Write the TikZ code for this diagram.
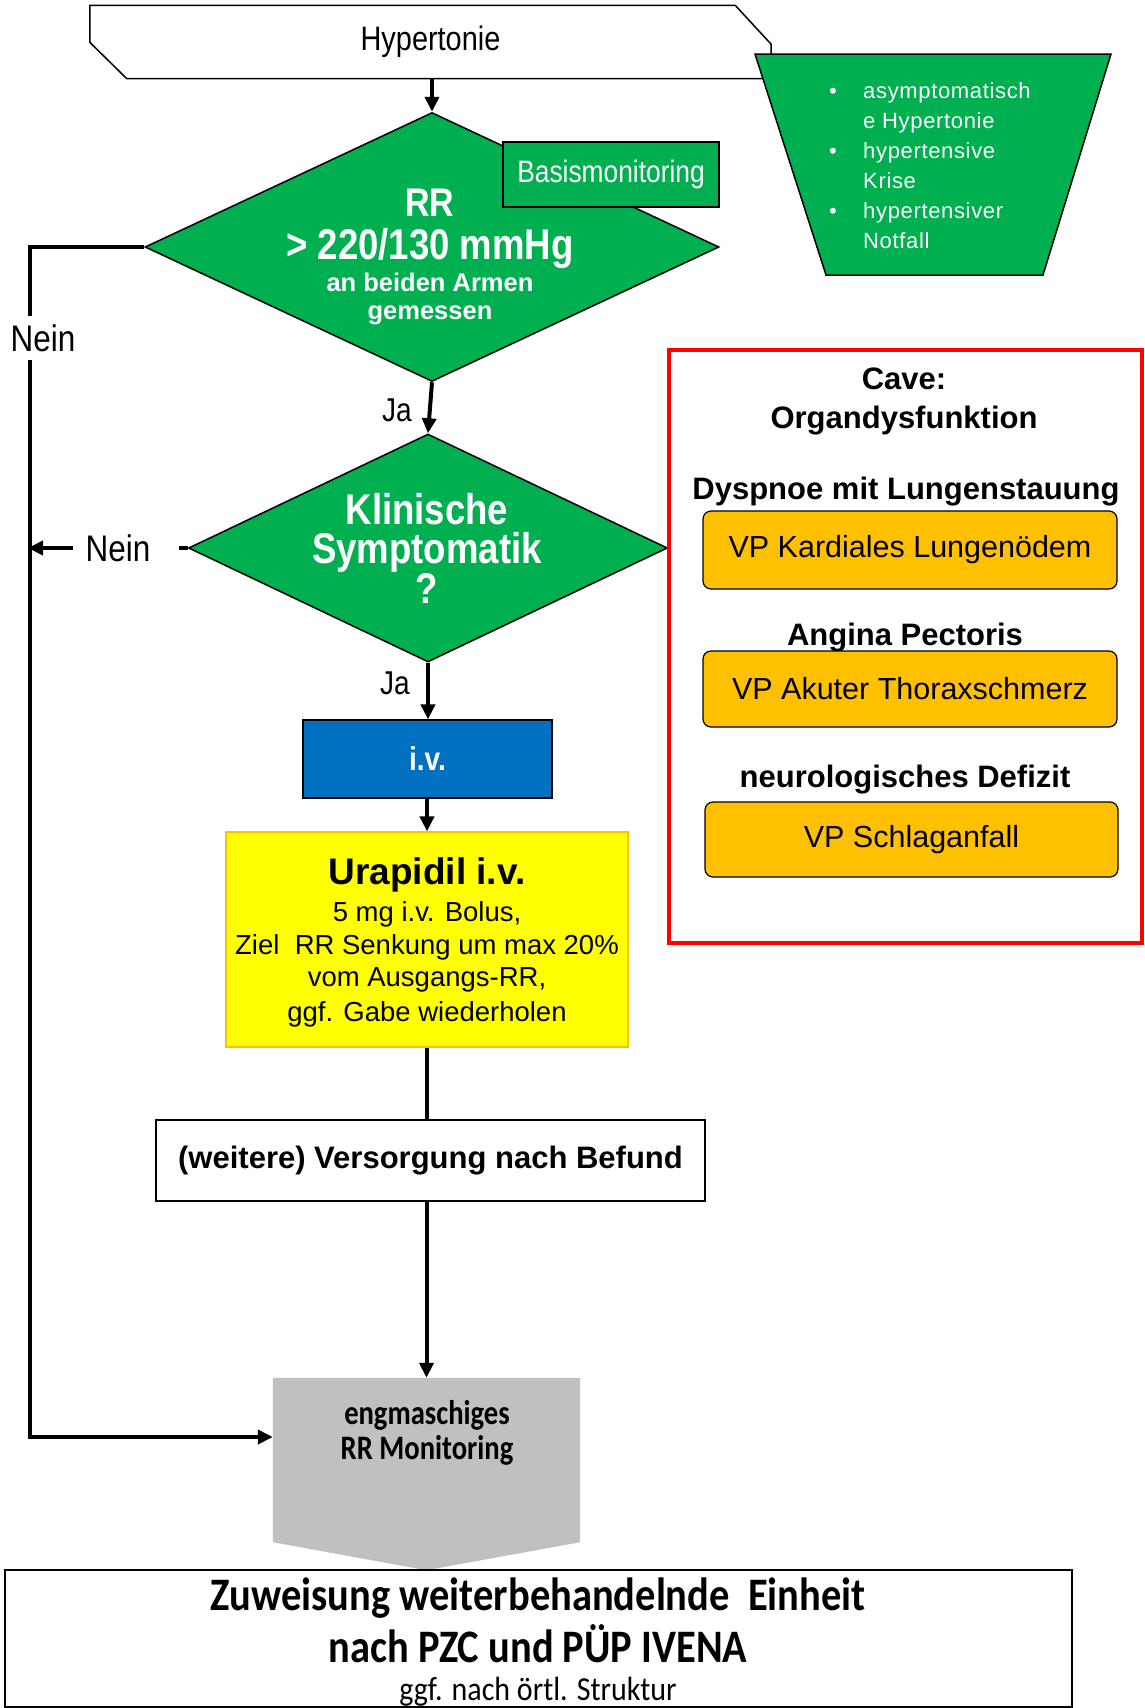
\documentclass[tikz,border=0pt]{standalone}
\usepackage{fontspec}
\setmainfont{Liberation Sans}
\newfontfamily\nar[FakeStretch=0.85]{Liberation Sans}
\newfontfamily\calb{Carlito}
\newfontfamily\spc[LetterSpace=3]{Liberation Sans}
\usetikzlibrary{shapes.geometric,arrows.meta,calc}
\newcommand{\setfs}[1]{\fontsize{#1pt}{#1pt}\selectfont}
\definecolor{mgreen}{HTML}{00B050}
\definecolor{mblue}{HTML}{0070C0}
\definecolor{myellow}{HTML}{FFFF00}
\definecolor{morange}{HTML}{FFC000}
\definecolor{mgray}{HTML}{C0C0C0}
\definecolor{mred}{HTML}{FF0000}
\tikzset{
  bord/.style={draw=black, line width=1.5pt},
  dia/.style={diamond, bord, fill=mgreen, inner sep=0pt},
  conn/.style={line width=4pt, line join=miter},
  arr/.style={conn, -{Triangle[length=15pt,width=14pt]}},
  wtxt/.style={text=white, inner sep=0pt},
  btxt/.style={text=black, inner sep=0pt},
  vpbox/.style={bord, line width=1.2pt, fill=morange, rounded corners=8pt, inner sep=0pt, font=\setfs{30.5}},
  head/.style={btxt, font=\bfseries\setfs{31}},
  lbl/.style={btxt, font=\nar\setfs{33}},
  nlbl/.style={btxt, font=\nar\setfs{37}},
  bigq/.style={wtxt, font=\nar\bfseries\setfs{43}, text height=30pt, text depth=8pt},
}
\begin{document}
\begin{tikzpicture}[x=1pt,y=-1pt]
\useasboundingbox (0,0) rectangle (1144,1708);

% Hypertonie
\node[minimum width=681pt, minimum height=73pt, inner sep=0pt, font=\nar\setfs{34}] (hyp) at (430.5,42) {Hypertonie};
\draw[bord] (hyp.north west) -- ($(hyp.north east)+(-36,0)$) -- ($(hyp.north east)+(0,39)$) -- (hyp.south east) -- ($(hyp.south west)+(37,0)$) -- ($(hyp.north west)+(0,37)$) -- cycle;

% trapezoid
\draw[bord, fill=mgreen] (755,54) -- (1111,54) -- (1043,275) -- (826,275) -- cycle;
\node[wtxt, anchor=west, font=\spc\fontsize{22pt}{30pt}\selectfont] (trapt) at (829,167) {%
  \begin{tabular}{@{}p{34pt}@{}l@{}}
  \textbullet & asymptomatisch\\
   & e Hypertonie\\
  \textbullet & hypertensive\\
   & Krise\\
  \textbullet & hypertensiver\\
   & Notfall
  \end{tabular}};

% diamond 1
\node[dia, minimum width=574pt, minimum height=269pt] (d1) at (432,247) {};
\node[wtxt, font=\nar\bfseries\setfs{40}] (d1a) at (430,203) {RR};
\node[wtxt, font=\nar\bfseries\setfs{43}] (d1b) at (430,248) {> 220/130 mmHg};
\node[wtxt, font=\bfseries\setfs{25.5}] (d1c) at (430,282) {an beiden Armen};
\node[wtxt, font=\bfseries\setfs{25.5}] (d1d) at (430,315) {gemessen};

% Basismonitoring
\node[bord, fill=mgreen, minimum width=216pt, minimum height=65pt, inner sep=0pt, text=white, font=\nar\setfs{31}] (basis) at (611,174.5) {Basismonitoring};

% diamond 2
\node[dia, minimum width=479pt, minimum height=228pt] (d2) at (428,548) {};
\node[bigq] (d2a) at (427,513) {Klinische};
\node[bigq] (d2b) at (427,552) {Symptomatik};
\node[bigq] (d2c) at (427,592) {?};

% red box
\node[draw=mred, line width=4pt, minimum width=473pt, minimum height=593pt, inner sep=0pt] (cave) at (905.5,646.5) {};
\node[head] (cv1) at (904,379) {Cave:};
\node[head] (cv2) at (904,421) {Organdysfunktion};
\node[head] (h1) at (906,492) {Dyspnoe mit Lungenstauung};
\node[vpbox, minimum width=414pt, minimum height=78pt] (vp1) at (910,550) {VP Kardiales Lungenödem};
\node[head] (h2) at (905,638) {Angina Pectoris};
\node[vpbox, minimum width=414pt, minimum height=76pt] (vp2) at (910,689) {VP Akuter Thoraxschmerz};
\node[head] (h3) at (905,780) {neurologisches Defizit};
\node[vpbox, minimum width=413pt, minimum height=75pt] (vp3) at (911.5,839.5) {VP Schlaganfall};

% i.v.
\node[draw=black, line width=1.2pt, fill=mblue, minimum width=249pt, minimum height=78pt, inner sep=0pt, text=white, font=\nar\bfseries\setfs{33}] (iv) at (427.5,759) {i.v.};

% Urapidil
\node[draw=morange, line width=1.2pt, fill=myellow, minimum width=402pt, minimum height=215pt, inner sep=0pt] (ura) at (427,939.5) {};
\node[btxt, font=\bfseries\setfs{37}] (u1) at (427,875) {Urapidil i.v.};
\node[btxt, font=\setfs{27.5}] (u2) at (427,914) {5 mg i.v. Bolus,};
\node[btxt, font=\setfs{27.5}] (u3) at (427,947) {Ziel\ \ RR Senkung um max 20\%};
\node[btxt, font=\setfs{27.5}] (u4) at (427,980) {vom Ausgangs-RR,};
\node[btxt, font=\setfs{27.5}] (u5) at (427,1014) {ggf. Gabe wiederholen};

% Versorgung
\node[bord, fill=white, minimum width=549pt, minimum height=81pt, inner sep=0pt, font=\bfseries\setfs{31}] (vers) at (430.5,1160.5) {(weitere) Versorgung nach Befund};

% gray monitoring
\node[minimum width=307pt, minimum height=164pt, inner sep=0pt] (gray) at (426.5,1460) {};
\fill[mgray] (gray.north west) -- (gray.north east) -- (gray.south east) -- ($(gray.south)+(0,28)$) -- (gray.south west) -- cycle;
\node[btxt, font=\calb\bfseries\setfs{28.6}] (g1) at (427,1415) {\scalebox{1}[1.2]{engmaschiges}};
\node[btxt, font=\calb\bfseries\setfs{28.6}] (g2) at (427,1450) {\scalebox{1}[1.2]{RR Monitoring}};

% bottom box
\node[draw=black, line width=1.5pt, minimum width=1067pt, minimum height=137pt, inner sep=0pt] (zuw) at (538.5,1638.5) {};
\node[btxt, font=\calb\bfseries\setfs{40.5}] (z1) at (538,1598) {\scalebox{1}[1.15]{Zuweisung weiterbehandelnde\ \ Einheit}};
\node[btxt, font=\calb\bfseries\setfs{40.5}] (z2) at (538,1644) {\scalebox{1}[1.15]{nach PZC und PÜP IVENA}};
\node[btxt, font=\calb\setfs{30}] (z3) at (538,1692) {\scalebox{1}[1.12]{ggf. nach örtl. Struktur}};

% connectors
\coordinate (loopc) at (30,1437);
\draw[arr] (d1.north |- hyp.south) -- (d1.north);
\draw[arr] (d1.south) -- (d2.north);
\node[lbl] (ja1) at (397,410) {Ja};
\draw[arr] (d2.south) -- (d2.south |- iv.north);
\node[lbl] (ja2) at (395,683) {Ja};
\draw[arr] (iv.south -| ura.north) -- (ura.north);
\draw[conn] (ura.south) -- (ura.south |- vers.north);
\draw[arr] (vers.south -| gray.north) -- (gray.north);
\draw[arr] (d1.west) -- (d1.west -| loopc) -- (loopc) -- (loopc -| gray.west);
\node[nlbl, fill=white, inner ysep=8pt, inner xsep=2pt] (nein1) at (43,338) {Nein};
\node[nlbl] (nein2) at (118,548) {Nein};
\draw[conn] (d2.west) -- ($(nein2.east)+(28,0)$);
\draw[arr, shorten >=-2pt] ($(nein2.west)+(-12,0)$) -- (nein2.west -| loopc);
\end{tikzpicture}
\end{document}
